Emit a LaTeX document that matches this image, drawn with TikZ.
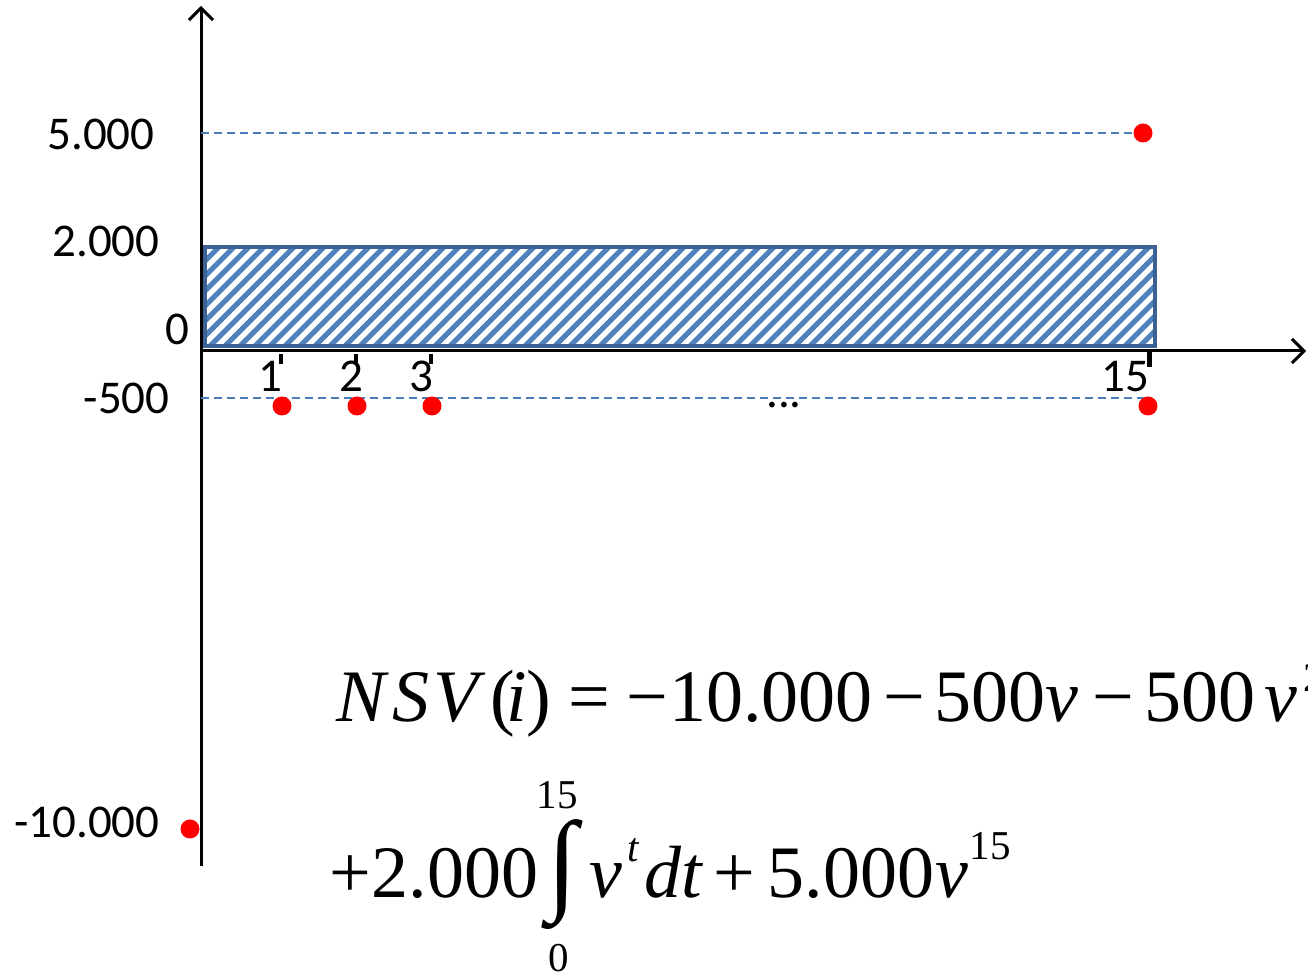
\documentclass[tikz,border=0pt]{standalone}
\usepackage{fontspec}
\setmainfont{Carlito}
\newfontfamily\tnr{Liberation Serif}
\usetikzlibrary{arrows.meta}
\definecolor{hatchblue}{HTML}{4F81BD}
\definecolor{frameblue}{HTML}{3C6294}
\definecolor{dashblue}{HTML}{4A7EBB}
\begin{document}
\begin{tikzpicture}[x=0.5pt,y=-0.5pt,
  axisline/.style={line width=1.5pt, -{Straight Barb[length=6pt,width=12pt,line width=1.5pt]}},
  lbl/.style={font=\fontsize{23.5}{28}\selectfont, inner sep=0pt, anchor=base east},
  ticklbl/.style={font=\fontsize{23.5}{28}\selectfont, inner sep=0pt, anchor=base},
  reddot/.style={circle, fill=red, draw=none, minimum size=9.5pt, inner sep=0pt},
  guide/.style={dashblue, line width=0.75pt, dash pattern=on 4pt off 2.5pt},
  tickmark/.style={line width=1.6pt},
  fm/.style={font=\tnr\fontsize{37}{40}\selectfont, inner sep=0pt, anchor=base},
  sup/.style={font=\tnr\fontsize{20.5}{24}\selectfont, inner sep=0pt, anchor=base},
  limit/.style={font=\tnr\fontsize{20.5}{24}\selectfont, inner sep=0pt}]
\useasboundingbox (0,0) rectangle (1308,977);
\clip (0,0) rectangle (1308,977);
% hatched rectangle
\begin{scope}
  \clip (205,247) rectangle (1155,346);
  \foreach \k in {0,...,72}
    \draw[hatchblue, line width=2.6pt] ({101+15*\k},350) -- ({101+15*\k+106},244);
\end{scope}
\node[draw=frameblue, line width=2.25pt, inner sep=0pt, minimum width=475pt, minimum height=49.5pt] (box) at (680,296.5) {};
% axes
\coordinate (O) at (201,351);
\coordinate (ybot) at (201,866);
\coordinate (ytop) at (201,6);
\coordinate (xend) at (1306,351);
\draw[axisline] (ybot) -- (ytop);
\draw[axisline] (O) -- (xend);
% ticks
\foreach \n/\x in {t1/281,t2/356,t3/431}{
  \coordinate (\n a) at (\x,354);
  \coordinate (\n b) at (\x,364);
  \draw[tickmark] (\n a) -- (\n b);
}
\coordinate (t15a) at (1149.5,352);
\coordinate (t15b) at (1149.5,367);
\draw[line width=2.5pt] (t15a) -- (t15b);
% tick labels
\node[ticklbl] (l1) at (270,392) {1};
\node[ticklbl] (l2) at (351,392) {2};
\node[ticklbl] (l3) at (421,392) {3};
\node[ticklbl] (l15) at (1125,392) {15};
\node[ticklbl] (dots) at (784,408) {...};
% y labels
\node[lbl] (y5000) at (155,150) {5.000};
\node[lbl] (y2000) at (160,257) {2.000};
\node[lbl] (y0) at (190,345) {0};
\node[lbl] (y500) at (170,414) {-500};
\node[lbl] (y10000) at (160,838) {-10.000};
% dots and guides
\node[reddot] (d5000) at (1143,133) {};
\coordinate (g5000) at (201,133);
\draw[guide] (g5000) -- (d5000.west);
\coordinate (g500) at (201,398);
\coordinate (g500e) at (1146,398);
\draw[guide] (g500) -- (g500e);
\node[reddot] (d1) at (282,406) {};
\node[reddot] (d2) at (357,406) {};
\node[reddot] (d3) at (432,406) {};
\node[reddot] (d15) at (1148,406) {};
\node[reddot] (d0) at (190,829) {};
% formula line 1
\node[fm] (nN) at (361,722) {\tnr\itshape N};
\node[fm] (nS) at (411,722) {\tnr\itshape S};
\node[fm] (nV) at (456,722) {\tnr\itshape V};
\node[fm] (lp) at (503,722) {\tnr (};
\node[fm] (iv) at (517,722) {\tnr\itshape i};
\node[fm] (rp) at (539,722) {\tnr )};
\node[fm] (eq) at (589,722) {\tnr =};
\node[fm] (m0) at (647,722) {\tnr −};
\node[fm] (c0) at (771,722) {\tnr 10.000};
\node[fm] (m1) at (904,722) {\tnr −};
\node[fm] (c1) at (990,722) {\tnr 500};
\node[fm] (v1) at (1062,722) {\tnr\itshape v};
\node[fm] (m2) at (1113,722) {\tnr −};
\node[fm] (c2) at (1200,722) {\tnr 500};
\node[fm] (v2) at (1281,722) {\tnr\itshape v};
\node[sup, anchor=base west] (e2) at (1303,692) {\tnr 2};
% formula line 2
\node[fm] (pl0) at (350,898) {\tnr +};
\node[fm] (c3) at (455,898) {\tnr 2.000};
\node[inner sep=0pt] (intg) at (562,875) {\resizebox*{15pt}{55pt}{\tnr ∫}};
\node[limit] (up) at (557,795) {\tnr 15};
\node[limit] (lo) at (559,958) {\tnr 0};
\node[fm] (vt) at (606,898) {\tnr\itshape v};
\node[sup] (et) at (633,862) {\tnr\itshape t};
\node[fm] (dt) at (673,898) {\tnr\itshape dt};
\node[fm] (pl) at (734,898) {\tnr +};
\node[fm] (c4) at (851,898) {\tnr 5.000};
\node[fm] (v15) at (952,898) {\tnr\itshape v};
\node[sup] (e15) at (990,860) {\tnr 15};
\end{tikzpicture}
\end{document}
